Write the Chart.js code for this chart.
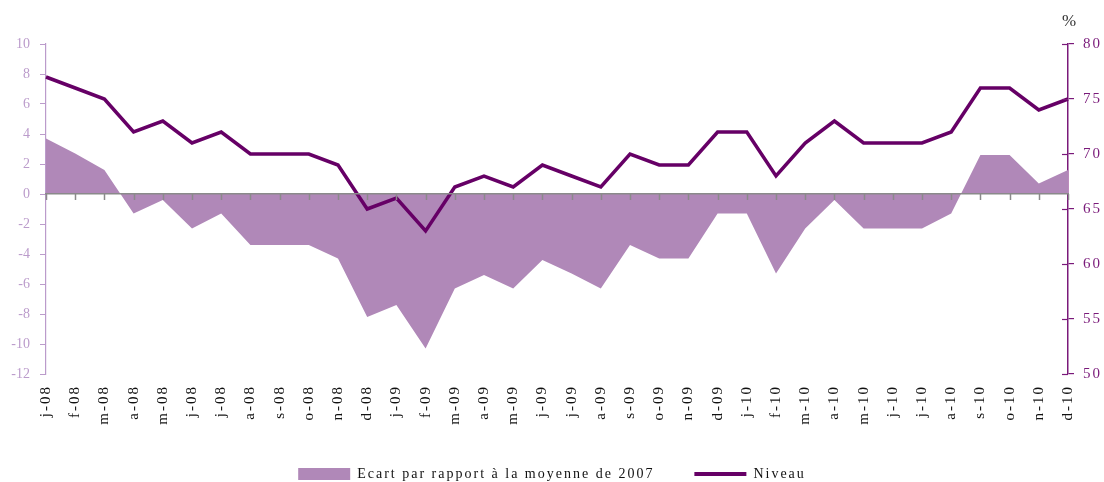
<!DOCTYPE html>
<html>
<head>
<meta charset="utf-8">
<script src="https://cdn.jsdelivr.net/npm/chart.js@4/dist/chart.umd.min.js"></script>
<style>
  html, body { margin: 0; padding: 0; background: #fff; }
  #wrap { width: 1104px; height: 482px; }
</style>
</head>
<body>
<div id="wrap"><canvas id="chart"></canvas></div>
<script>
const months = ['j-08','f-08','m-08','a-08','m-08','j-08','j-08','a-08','s-08','o-08','n-08','d-08',
                'j-09','f-09','m-09','a-09','m-09','j-09','j-09','a-09','s-09','o-09','n-09','d-09',
                'j-10','f-10','m-10','a-10','m-10','j-10','j-10','a-10','s-10','o-10','n-10','d-10'];

// écart par rapport à la moyenne de 2007 (axe gauche)
const ecart = [3.7, 2.7, 1.6, -1.3, -0.4, -2.3, -1.3, -3.4, -3.4, -3.4, -4.3, -8.2,
               -7.4, -10.3, -6.3, -5.4, -6.3, -4.4, -5.3, -6.3, -3.4, -4.3, -4.3, -1.3,
               -1.3, -5.3, -2.3, -0.4, -2.3, -2.3, -2.3, -1.3, 2.6, 2.6, 0.7, 1.6];

// niveau en % (axe droit)
const niveau = [77, 76, 75, 72, 73, 71, 72, 70, 70, 70, 69, 65,
                66, 63, 67, 68, 67, 69, 68, 67, 70, 69, 69, 72,
                72, 68, 71, 73, 71, 71, 71, 72, 76, 76, 74, 75];

const leftTicks = { min: -12, max: 10, step: 2 };
const rightTicks = { min: 50, max: 80, step: 5 };

const AREA = '#b088b8';
const LINE = '#660066';
const LEFT_COL = '#bb9bcb';
const RIGHT_COL = '#7a1a7a';
const ZERO_COL = '#8a8a8a';
const SERIF = "'Liberation Serif', 'DejaVu Serif', serif";

// espacement des lettres comme sur l'original, sauf l'axe gauche
const spacing = {
  id: 'spacing',
  beforeUpdate(chart) { chart.ctx.letterSpacing = '2px'; },
  beforeDraw(chart) { chart.ctx.letterSpacing = '2px'; },
  afterDatasetsDraw(chart) { chart.ctx.letterSpacing = '0px'; },
  afterDraw(chart) {
    const ctx = chart.ctx, s = chart.scales.y1, xs = chart.scales.x2, ys = chart.scales.y;
    ctx.save();
    // graduations de droite qui traversent l'axe
    ctx.strokeStyle = RIGHT_COL;
    ctx.lineWidth = 1.2;
    s.ticks.forEach(t => {
      const py = Math.round(s.getPixelForValue(t.value)) + 0.5;
      ctx.beginPath();
      ctx.moveTo(s.left - 6, py);
      ctx.lineTo(s.left, py);
      ctx.stroke();
    });
    // petites graduations sur la ligne du zéro, par-dessus l'aire
    const y0 = ys.getPixelForValue(0);
    ctx.strokeStyle = ZERO_COL;
    ctx.lineWidth = 1.5;
    xs.ticks.forEach((t, i) => {
      const px = Math.round(xs.getPixelForTick(i)) + 0.5;
      ctx.beginPath();
      ctx.moveTo(px, y0);
      ctx.lineTo(px, y0 + 6);
      ctx.stroke();
    });
    ctx.letterSpacing = '0px';
    ctx.font = '17px ' + SERIF;
    ctx.fillStyle = '#333';
    ctx.textAlign = 'center';
    ctx.textBaseline = 'middle';
    ctx.fillText('%', s.left + 1, s.top - 22);
    ctx.restore();
  }
};

new Chart(document.getElementById('chart'), {
  type: 'line',
  data: {
    labels: months,
    datasets: [
      {
        label: 'Ecart par rapport à la moyenne de 2007',
        data: ecart,
        yAxisID: 'y',
        fill: 'origin',
        backgroundColor: AREA,
        borderColor: 'transparent',
        borderWidth: 0,
        pointRadius: 0,
        order: 2
      },
      {
        label: 'Niveau',
        data: niveau,
        yAxisID: 'y1',
        fill: false,
        borderColor: LINE,
        borderWidth: 3.5,
        pointRadius: 0,
        order: 1
      }
    ]
  },
  options: {
    responsive: true,
    maintainAspectRatio: false,
    animation: false,
    layout: { padding: { top: 44, left: 0, right: 0, bottom: -9 } },
    plugins: {
      tooltip: { enabled: false },
      legend: {
        position: 'bottom',
        labels: {
          usePointStyle: true,
          pointStyleWidth: 52,
          boxHeight: 12,
          padding: 40,
          color: '#111',
          font: { family: SERIF, size: 14 },
          sort: (a, b) => a.datasetIndex - b.datasetIndex,
          generateLabels(chart) {
            const items = Chart.defaults.plugins.legend.labels.generateLabels(chart);
            items.forEach(it => {
              if (it.datasetIndex === 0) {
                it.pointStyle = 'rect';
                it.fillStyle = AREA;
                it.strokeStyle = AREA;
                it.lineWidth = 0;
              } else {
                it.pointStyle = 'line';
                it.strokeStyle = LINE;
                it.lineWidth = 4;
              }
            });
            return items;
          }
        }
      }
    },
    scales: {
      x: {
        position: 'bottom',
        grid: { display: false, drawTicks: false },
        border: { display: false },
        ticks: {
          autoSkip: false,
          minRotation: 90,
          maxRotation: 90,
          padding: 11,
          color: '#111',
          font: { family: SERIF, size: 15 }
        },
        afterFit(s) { s.height = 53; }
      },
      x2: {
        type: 'category',
        position: { y: 0 },
        grid: { display: false, drawOnChartArea: false, drawTicks: false },
        border: { display: true, color: ZERO_COL, width: 1.5, z: 1 },
        ticks: { display: false }
      },
      y: {
        position: 'left',
        min: leftTicks.min,
        max: leftTicks.max,
        grid: { drawOnChartArea: false, tickLength: 6, color: LEFT_COL },
        border: { color: LEFT_COL, width: 1.2 },
        ticks: {
          stepSize: leftTicks.step,
          padding: 10,
          color: LEFT_COL,
          z: 1,
          font: { family: SERIF, size: 14 }
        },
        afterFit(s) { s.width = 46; }
      },
      y1: {
        position: 'right',
        min: rightTicks.min,
        max: rightTicks.max,
        grid: { drawOnChartArea: false, tickLength: 6, color: RIGHT_COL, lineWidth: 1.2 },
        border: { color: RIGHT_COL, width: 1.5 },
        ticks: {
          stepSize: rightTicks.step,
          padding: 9,
          color: RIGHT_COL,
          font: { family: SERIF, size: 15 }
        },
        afterFit(s) { s.width = 36; }
      }
    }
  },
  plugins: [spacing]
});
</script>
</body>
</html>
